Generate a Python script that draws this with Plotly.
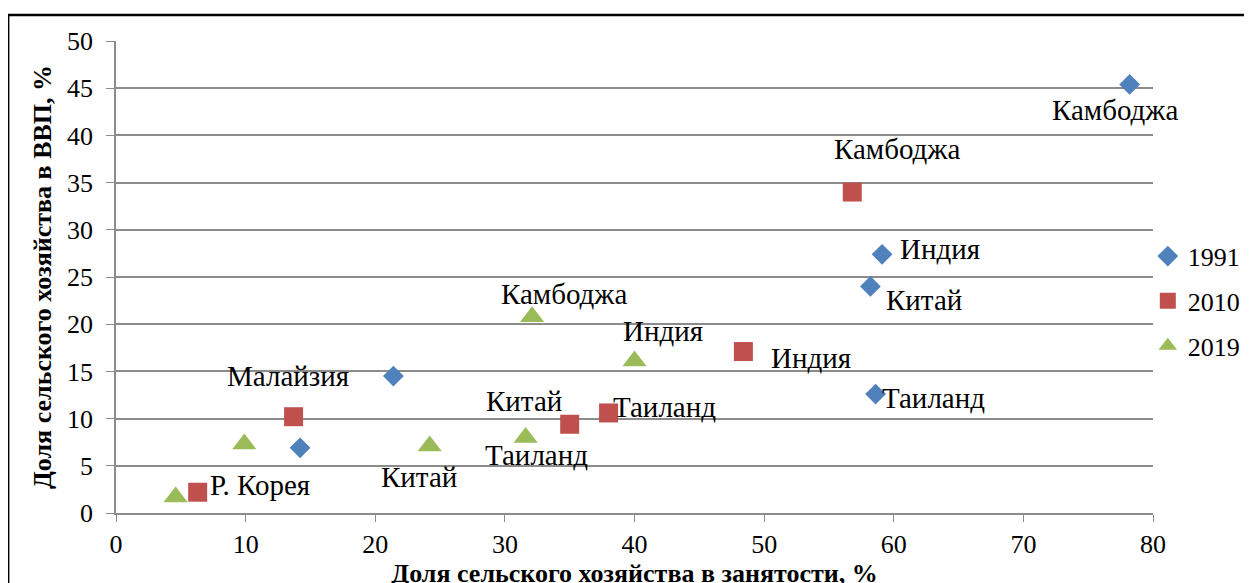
import plotly.graph_objects as go

# 1991
x_1991 = [78.2, 59.1, 58.2, 58.6, 21.4, 14.2]
y_1991 = [45.4, 27.4, 24.0, 12.6, 14.5, 6.9]
lab_1991 = ["Камбоджа", "Индия", "Китай", "Таиланд", "Малайзия", None]

# 2010
x_2010 = [56.8, 48.4, 35.0, 38.0, 13.7, 6.3]
y_2010 = [34.0, 17.1, 9.4, 10.6, 10.2, 2.2]
lab_2010 = ["Камбоджа", "Индия", "Китай", "Таиланд", None, "Р. Корея"]

# 2019
x_2019 = [32.1, 40.0, 24.2, 31.6, 9.9, 4.6]
y_2019 = [20.8, 16.1, 7.1, 8.0, 7.3, 1.7]
lab_2019 = ["Камбоджа", "Индия", "Китай", "Таиланд", None, None]

# label offsets in pixels (dx, dy), same order as points
off_1991 = [(-15, -26), (58, 5), (54, -14), (58, -4), (-105, 0), None]
off_2010 = [(45, 43), (68, -6), (-46, 23), (56, 6), None, (62, 7)]
off_2019 = [(32, 23), (28, 30), (-11, -31), (11, -18), None, None]

FONT = "Times New Roman, Liberation Serif, serif"

series = [
    ("1991", x_1991, y_1991, lab_1991, off_1991, "diamond", "#4F81BD", 16),
    ("2010", x_2010, y_2010, lab_2010, off_2010, "square", "#C0504D", 19),
    ("2019", x_2019, y_2019, lab_2019, off_2019, "triangle-up", "#9BBB59", 21),
]

fig = go.Figure()
annotations = []
for name, xs, ys, labs, offs, sym, color, size in series:
    fig.add_trace(go.Scatter(
        x=xs, y=ys, mode="markers", name=name,
        legendgroup=name,
        marker=dict(symbol=sym, color=color, size=size, line=dict(width=0)),
    ))
    for x, y, lab, off in zip(xs, ys, labs, offs):
        if lab is None:
            continue
        annotations.append(dict(
            x=x, y=y, text=lab, showarrow=False,
            xshift=off[0], yshift=off[1],
            font=dict(family=FONT, size=29, color="black"),
        ))

# page body has an 8px margin, so margins are shifted to compensate
fig.update_layout(
    width=1252, height=583,
    margin=dict(l=108, r=107, t=33, b=78, autoexpand=False),
    paper_bgcolor="white", plot_bgcolor="white",
    font=dict(family=FONT, color="black"),
    annotations=annotations,
    showlegend=True,
    legend=dict(
        x=0.995, y=0.594, xanchor="left", yanchor="top",
        font=dict(family=FONT, size=26, color="black"),
        tracegroupgap=8, itemwidth=30,
        bgcolor="rgba(0,0,0,0)",
    ),
    xaxis=dict(
        range=[0, 80], dtick=10, showgrid=False, zeroline=False,
        showline=True, linecolor="#8c8c8c", linewidth=1.5,
        ticks="outside", ticklen=7, tickcolor="#8c8c8c",
        tickfont=dict(family=FONT, size=26, color="black"),
        automargin=False,
        title=dict(text="<b>Доля сельского хозяйства в занятости, %</b>",
                   font=dict(family=FONT, size=26, color="black"), standoff=1),
    ),
    yaxis=dict(
        range=[0, 50], dtick=5, showgrid=True, gridcolor="#8c8c8c", gridwidth=1.5,
        zeroline=False, showline=True, linecolor="#8c8c8c", linewidth=1.5,
        ticks="outside", ticklen=8, tickcolor="#8c8c8c",
        ticklabelstandoff=8,
        tickfont=dict(family=FONT, size=26, color="black"),
        automargin=False,
        title=dict(text="<b>Доля сельского хозяйства в ВВП, %</b>",
                   font=dict(family=FONT, size=26, color="black"), standoff=8),
    ),
)

# outer chart frame
fig.add_shape(type="rect", xref="paper", yref="paper",
              x0=-0.104, x1=1.092, y0=-0.17, y1=1.055,
              line=dict(color="black", width=2.5), layer="above")

fig.write_html("out.html")
